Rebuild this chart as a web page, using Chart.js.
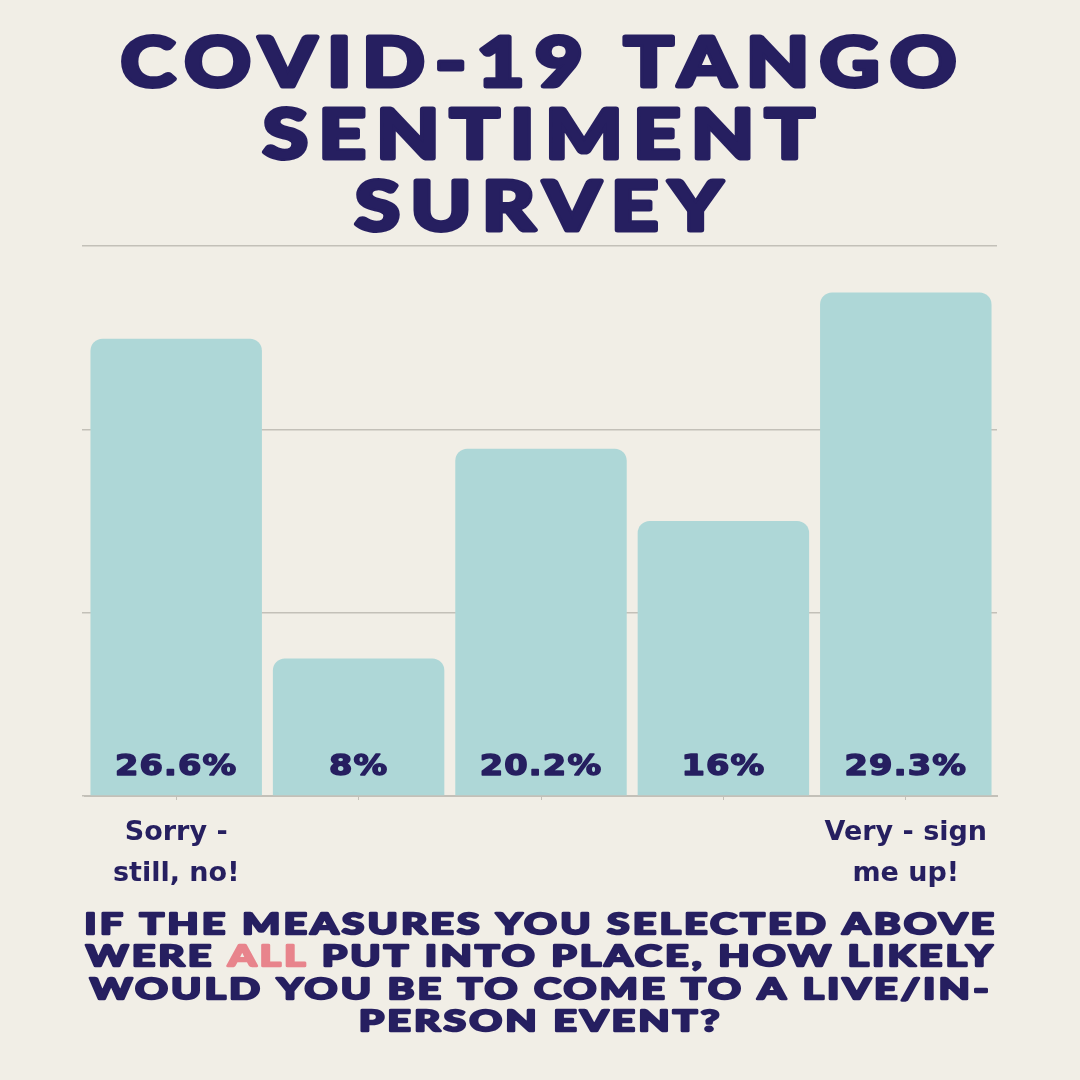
<!DOCTYPE html>
<html lang="en">
<head>
<meta charset="UTF-8">
<title>COVID-19 Tango Sentiment Survey</title>
<script src="https://cdn.jsdelivr.net/npm/chart.js"></script>
<style>
  body { margin: 0; background: #f1eee6; }
  canvas { display: block; }
</style>
</head>
<body>
<canvas id="grafica" width="1080" height="1080"></canvas>
<script>
const categories = [['Sorry -', 'still, no!'], '', '', '', ['Very - sign', 'me up!']];
const values = [26.6, 8, 20.2, 16, 29.3];
const gridValues = [0, 32 / 3, 64 / 3, 32];
const titleLines = ['COVID-19 TANGO', 'SENTIMENT', 'SURVEY'];
// each piece: [text, highlighted]
const questionLines = [
    [['IF THE MEASURES YOU SELECTED ABOVE', false]],
    [['WERE ', false], ['ALL', true], [' PUT INTO PLACE, HOW LIKELY', false]],
    [['WOULD YOU BE TO COME TO A LIVE/IN-', false]],
    [['PERSON EVENT?', false]]
];

const NAVY = '#261f60';
const PINK = '#e8848c';
const BG = '#f1eee6';
const TEAL = '#aed7d7';
const GRID = '#c3c0b8';

function lineWidth(ctx, parts) {
    return parts.reduce((w, p) => w + ctx.measureText(p[0]).width, 0);
}

// draws text pieces centred on cx, stretched horizontally, fattened with a round stroke
function drawPieces(ctx, parts, cx, baseline, stretch, fat) {
    let x = cx / stretch - lineWidth(ctx, parts) / 2;
    ctx.save();
    ctx.scale(stretch, 1);
    ctx.textAlign = 'left';
    ctx.textBaseline = 'alphabetic';
    ctx.lineJoin = 'round';
    ctx.lineWidth = fat;
    parts.forEach(p => {
        ctx.fillStyle = p[1] ? PINK : NAVY;
        ctx.strokeStyle = ctx.fillStyle;
        if (fat > 0) ctx.strokeText(p[0], x, baseline);
        ctx.fillText(p[0], x, baseline);
        x += ctx.measureText(p[0]).width;
    });
    ctx.restore();
}

const posterText = {
    id: 'posterText',
    beforeDraw(chart) {
        const ctx = chart.ctx;
        ctx.save();
        ctx.fillStyle = BG;
        ctx.fillRect(0, 0, chart.width, chart.height);
        ctx.restore();
    },
    afterDraw(chart) {
        const ctx = chart.ctx;
        ctx.save();
        // title
        ctx.font = 'bold 66px Lato';
        ctx.letterSpacing = '9px';
        let s = 846 / ctx.measureText(titleLines[0]).width;
        titleLines.forEach((t, i) => drawPieces(ctx, [[t, false]], 544, 85.5 + i * 72, s, 5));
        // question under the chart
        ctx.font = 'bold 28px Lato';
        ctx.letterSpacing = '2.5px';
        s = 913 / lineWidth(ctx, questionLines[0]);
        questionLines.forEach((l, i) => drawPieces(ctx, l, 541, 934 + i * 32.3, s, 2.5));
        // percentages at the foot of each bar
        ctx.font = 'bold 28px "DejaVu Sans"';
        ctx.letterSpacing = '1px';
        const y0 = chart.scales.y.getPixelForValue(0);
        chart.getDatasetMeta(0).data.forEach((bar, i) => {
            drawPieces(ctx, [[values[i] + '%', false]], bar.x, y0 - 21, 1.2, 1.5);
        });
        ctx.restore();
    }
};

new Chart(document.getElementById('grafica'), {
    type: 'bar',
    data: {
        labels: categories,
        datasets: [{
            data: values,
            backgroundColor: TEAL,
            borderRadius: {topLeft: 12, topRight: 12},
            borderSkipped: 'bottom',
            barPercentage: 0.94,
            categoryPercentage: 1
        }]
    },
    options: {
        responsive: false,
        devicePixelRatio: 1,
        animation: false,
        layout: {padding: {top: 246, left: 82, right: 83, bottom: 173}},
        plugins: {legend: {display: false}, tooltip: {enabled: false}},
        scales: {
            x: {
                grid: {offset: false, drawOnChartArea: false, tickLength: 4, color: GRID},
                border: {color: GRID, width: 2},
                ticks: {
                    color: NAVY,
                    padding: 13,
                    maxRotation: 0,
                    autoSkip: false,
                    font: {family: 'DejaVu Sans', weight: 'bold', size: 27, lineHeight: 1.5}
                }
            },
            y: {
                min: 0,
                max: 32,
                afterBuildTicks: scale => { scale.ticks = gridValues.map(v => ({value: v})); },
                grid: {color: GRID, lineWidth: 1.5, tickLength: 3},
                border: {display: false},
                ticks: {display: false}
            }
        }
    },
    plugins: [posterText]
});
</script>
</body>
</html>
